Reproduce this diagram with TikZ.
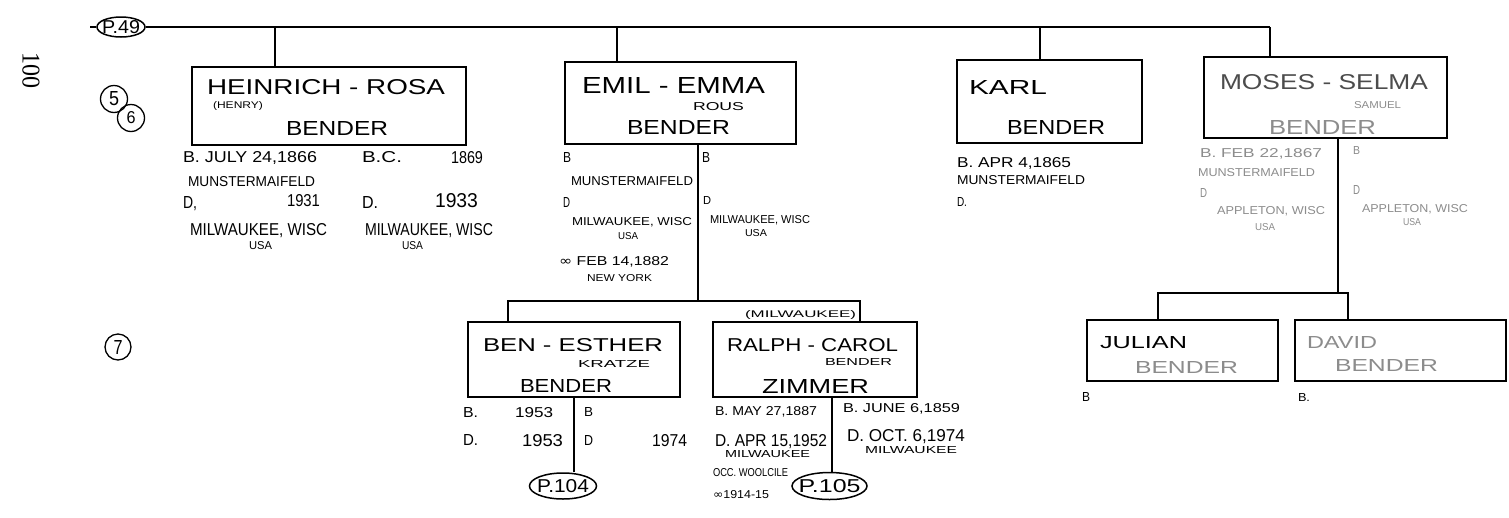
\documentclass[tikz,border=0pt]{standalone}
\usepackage{fontspec}
\setmainfont{Liberation Sans}
\newfontfamily\serifnum{Liberation Serif}
\newfontfamily\dvs{DejaVu Sans}
\usetikzlibrary{shapes.geometric}
\newcommand{\hw}[3]{\resizebox{#1pt}{#2pt}{#3}}
\tikzset{
  txt/.style={anchor=base west, inner sep=0pt, outer sep=0pt},
  ctxt/.style={anchor=center, inner sep=0pt, outer sep=0pt},
  fam/.style={draw, rectangle, line width=1.8pt, inner sep=0pt},
  link/.style={line width=1.6pt},
  oval/.style={draw, ellipse, line width=1.5pt, inner sep=0pt},
  ring/.style={draw, circle, line width=1.3pt, inner sep=0pt},
  faint/.style={text=black!45},
  mid/.style={text=black!70},
}
\begin{document}
\begin{tikzpicture}[x=1pt,y=-1pt]
\fill[white] (0,0) rectangle (1509,517);
\useasboundingbox (0,0) rectangle (1509,517);

% page number and generation marks
\node[rotate=-90, inner sep=0pt] (pg) at (31,70) {\hw{36}{17}{\serifnum 100}};
\node[ring, minimum size=27pt] (c5) at (114,99) {};
\node[ring, minimum size=27pt] (c6) at (131,118) {};
\node[ctxt] (n5) at (c5) {\hw{10}{14}{5}};
\node[ctxt] (n6) at (c6) {\hw{9}{12}{6}};
\node[ring, minimum size=26pt] (c7) at (118,347) {};
\node[ctxt] (n7) at (c7) {\hw{9}{14}{7}};

% top bar
\node[oval, minimum width=48pt, minimum height=20pt] (p49) at (121,27) {};
\node[ctxt] (p49t) at (p49) {\hw{38}{13}{P.49}};
\coordinate (barL) at (90,27);
\coordinate (barR) at (1270,27);
\draw[link] (barL) -- (p49.west);
\draw[link] (p49.east) -- (barR);

% generation 5/6 boxes
\node[fam, minimum width=274pt, minimum height=78pt] (heinrich) at (329,106) {};
\node[fam, minimum width=231pt, minimum height=82pt] (emil) at (680.5,103) {};
\node[fam, minimum width=185pt, minimum height=83pt] (karl) at (1049.5,101.5) {};
\node[fam, minimum width=243pt, minimum height=81pt] (moses) at (1325.5,97.5) {};

\coordinate (hd) at (275,67);
\coordinate (ed) at (617,62);
\coordinate (kd) at (1040,60);
\coordinate (md) at (1270,57);
\draw[link] (hd |- barR) -- (hd);
\draw[link] (ed |- barR) -- (ed);
\draw[link] (kd |- barR) -- (kd);
\draw[link] (barR) -- (md);

% generation 7 boxes
\node[fam, minimum width=212pt, minimum height=75pt] (ben) at (574,359.5) {};
\node[fam, minimum width=204pt, minimum height=75pt] (ralph) at (815,359.5) {};
\node[fam, minimum width=191pt, minimum height=61pt] (julian) at (1182.5,350.5) {};
\node[fam, minimum width=211pt, minimum height=61pt] (david) at (1400.5,350.5) {};

\node[oval, minimum width=67pt, minimum height=26pt] (p104) at (563,486) {};
\node[ctxt] (p104t) at (p104) {\hw{52}{13}{P.104}};
\node[oval, minimum width=75pt, minimum height=27pt] (p105) at (829.5,486) {};
\node[ctxt] (p105t) at (p105) {\hw{62}{13}{P.105}};

% connectors below
\coordinate (eb) at (698,144);
\coordinate (kL) at (508,301);
\coordinate (kR) at (860,301);
\draw[link] (eb) -- (eb |- kL);
\draw[link] (kL |- ben.north) -- (kL) -- (kR) -- (kR |- ralph.north);
\draw[link] (ben.south) -- (ben.south |- p104.north);
\coordinate (rb) at (832,397);
\draw[link] (rb) -- (rb |- p105.north);
\coordinate (mb) at (1338,138);
\coordinate (cL) at (1158,293);
\coordinate (cR) at (1348,293);
\draw[link] (mb) -- (mb |- cR);
\draw[link] (cL |- julian.north) -- (cL) -- (cR) -- (cR |- david.north);

% Heinrich - Rosa
\node[txt] (h1) at (207,94.5) {\hw{238}{15}{HEINRICH - ROSA}};
\node[txt] (h2) at (213,108.5) {\hw{50}{7}{(HENRY)}};
\node[txt] (h3) at (286,135) {\hw{102}{14}{BENDER}};
\node[txt] (h4) at (183,162.5) {\hw{134}{11}{B. JULY 24,1866}};
\node[txt] (h5) at (188,186) {\hw{127}{10}{MUNSTERMAIFELD}};
\node[txt] (h6) at (183,208) {\hw{14}{12}{D,}};
\node[txt] (h7) at (287,206) {\hw{33}{12}{1931}};
\node[txt] (h8) at (190,235) {\hw{137}{12}{MILWAUKEE, WISC}};
\node[txt] (h9) at (249,249) {\hw{23}{8}{USA}};
\node[txt] (h10) at (362,162.5) {\hw{40}{11}{B.C.}};
\node[txt] (h11) at (451,163) {\hw{32}{12}{1869}};
\node[txt] (h12) at (362,208) {\hw{16}{12}{D.}};
\node[txt] (h13) at (435,207) {\hw{43}{14}{1933}};
\node[txt] (h14) at (365,235) {\hw{128}{12}{MILWAUKEE, WISC}};
\node[txt] (h15) at (402,249) {\hw{21}{8}{USA}};

% Emil - Emma
\node[txt] (e1) at (582,93) {\hw{183}{16}{EMIL - EMMA}};
\node[txt] (e2) at (693,110) {\hw{51}{8}{ROUS}};
\node[txt] (e3) at (627,134) {\hw{103}{14}{BENDER}};
\node[txt] (e4) at (563,162) {\hw{8}{10}{B}};
\node[txt] (e5) at (571,185.5) {\hw{122}{9}{MUNSTERMAIFELD}};
\node[txt] (e6) at (563,207) {\hw{7}{10}{D}};
\node[txt] (e7) at (572,225) {\hw{120}{8}{MILWAUKEE, WISC}};
\node[txt] (e8) at (618,239.5) {\hw{20}{7}{USA}};
\node[txt] (e9) at (559,265.5) {\hw{110}{9}{{\dvs ∞} FEB 14,1882}};
\node[txt] (e10) at (587,281.5) {\hw{65}{7}{NEW YORK}};
\node[txt] (e11) at (702,162) {\hw{8}{10}{B}};
\node[txt] (e12) at (703,204) {\hw{8}{8}{D}};
\node[txt] (e13) at (710,223) {\hw{100}{8}{MILWAUKEE, WISC}};
\node[txt] (e14) at (745,236.5) {\hw{22}{7}{USA}};

% Karl
\node[txt] (k1) at (969,94) {\hw{78}{14}{KARL}};
\node[txt] (k2) at (1007,134) {\hw{98}{14}{BENDER}};
\node[txt] (k3) at (957,167) {\hw{114}{10}{B. APR 4,1865}};
\node[txt] (k4) at (957,184.5) {\hw{128}{9}{MUNSTERMAIFELD}};
\node[txt] (k5) at (957,206.5) {\hw{10}{9}{D.}};

% Moses - Selma
\node[txt, mid] (m1) at (1220,89.5) {\hw{208}{15}{MOSES - SELMA}};
\node[txt, faint] (m2) at (1354,108.5) {\hw{47}{7}{SAMUEL}};
\node[txt, faint] (m3) at (1269,134) {\hw{107}{14}{BENDER}};
\node[txt, faint] (m4) at (1200,157.5) {\hw{122}{9}{B. FEB 22,1867}};
\node[txt, faint] (m5) at (1198,176) {\hw{117}{8}{MUNSTERMAIFELD}};
\node[txt, faint] (m6) at (1200,197.5) {\hw{7}{9}{D}};
\node[txt, faint] (m7) at (1217,214) {\hw{108}{8}{APPLETON, WISC}};
\node[txt, faint] (m8) at (1255,230.5) {\hw{20}{7}{USA}};
\node[txt, faint] (m9) at (1353,154) {\hw{7}{8}{B}};
\node[txt, faint] (m10) at (1353,194.5) {\hw{7}{9}{D}};
\node[txt, faint] (m11) at (1362,212) {\hw{106}{8}{APPLETON, WISC}};
\node[txt, faint] (m12) at (1403,225.5) {\hw{18}{7}{USA}};

% Ben - Esther
\node[txt] (b1) at (483,351.5) {\hw{180}{13}{BEN - ESTHER}};
\node[txt] (b2) at (578,367.5) {\hw{72}{7}{KRATZE}};
\node[txt] (b3) at (520,392.5) {\hw{92}{13}{BENDER}};
\node[txt] (b4) at (463,417) {\hw{15}{10}{B.}};
\node[txt] (b5) at (515,417) {\hw{38}{10}{1953}};
\node[txt] (b6) at (584,416.5) {\hw{9}{9}{B}};
\node[txt] (b7) at (463,445.5) {\hw{15}{11}{D.}};
\node[txt] (b8) at (522,446) {\hw{41}{12}{1953}};
\node[txt] (b9) at (584,445) {\hw{9}{10}{D}};
\node[txt] (b10) at (652,446) {\hw{35}{12}{1974}};

% Ralph - Carol
\node[txt] (r4) at (745,317.5) {\hw{111}{7}{(MILWAUKEE)}};
\node[txt] (r1) at (727,351.5) {\hw{171}{13}{RALPH - CAROL}};
\node[txt] (r2) at (825,365.5) {\hw{67}{7}{BENDER}};
\node[txt] (r3) at (762,393) {\hw{107}{14}{ZIMMER}};
\node[txt] (r5) at (715,415.5) {\hw{102}{9}{B. MAY 27,1887}};
\node[txt] (r6) at (715,446) {\hw{112}{12}{D. APR 15,1952}};
\node[txt] (r7) at (725,457.5) {\hw{85}{7}{MILWAUKEE}};
\node[txt] (r8) at (713,476) {\hw{75}{8}{OCC. WOOLCILE}};
\node[txt] (r9) at (713,498) {\hw{56}{8}{{\dvs ∞}1914-15}};
\node[txt] (r10) at (843,412.5) {\hw{117}{9}{B. JUNE 6,1859}};
\node[txt] (r11) at (847,441) {\hw{118}{12}{D. OCT. 6,1974}};
\node[txt] (r12) at (865,453.5) {\hw{92}{7}{MILWAUKEE}};

% Julian, David
\node[txt] (j1) at (1100,348) {\hw{87}{12}{JULIAN}};
\node[txt, faint] (j2) at (1135,373) {\hw{103}{12}{BENDER}};
\node[txt] (j3) at (1082,401.5) {\hw{8}{9}{B}};
\node[txt, faint] (d1) at (1307,348) {\hw{70}{12}{DAVID}};
\node[txt, faint] (d2) at (1335,371) {\hw{103}{12}{BENDER}};
\node[txt] (d3) at (1298,401) {\hw{12}{8}{B.}};
\end{tikzpicture}
\end{document}
